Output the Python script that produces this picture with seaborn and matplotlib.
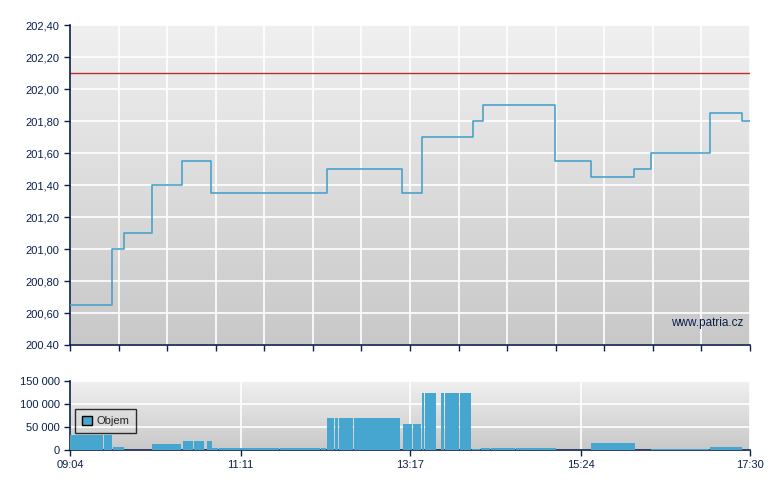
import numpy as np
import pandas as pd
import matplotlib
matplotlib.use('Agg')
import matplotlib.pyplot as plt
import seaborn as sns
from matplotlib.colors import LinearSegmentedColormap

# price steps (time of trade, price)
price_times = ['09:04', '09:35', '09:44', '10:05', '10:27', '10:49', '12:15',
               '13:11', '13:26', '14:04', '14:11', '15:05', '15:32', '16:04',
               '16:16', '17:00', '17:24', '17:30']
price_values = [200.65, 201.00, 201.10, 201.40, 201.55, 201.35, 201.50,
                201.35, 201.70, 201.80, 201.90, 201.55, 201.45, 201.50,
                201.60, 201.85, 201.80, 201.80]
prev_close = 202.10

# volume bars (start time, volume); a bar runs until the next start
vol_times = ['09:04', '09:29', '09:36', '09:45', '10:05', '10:27', '10:28',
             '10:36', '10:44', '10:46', '10:47', '10:50', '10:55', '11:22',
             '11:40', '12:11', '12:15', '12:21', '12:24', '12:29', '12:35',
             '12:55', '13:10', '13:12', '13:19', '13:21', '13:26', '13:28',
             '13:37', '13:40', '13:43', '13:54', '13:59', '14:03', '14:10',
             '14:17', '14:36', '15:06', '15:32', '16:05', '16:16', '17:00',
             '17:25']
vol_values = [32500, 32500, 6500, 0, 13000, 20000, 20000,
              20000, 0, 20000, 20000, 4300, 4300, 4300,
              4300, 4300, 69000, 69000, 69000, 69000, 69000,
              69000, 0, 56000, 56000, 56000, 125000, 125000,
              0, 125000, 125000, 125000, 125000, 2000, 5000,
              5000, 5000, 0, 15000, 0, 2000, 6500,
              0]
end_time = '17:30'

x_labels = ['09:04', '11:11', '13:17', '15:24', '17:30']
price_ticks = [200.4, 200.6, 200.8, 201.0, 201.2, 201.4, 201.6, 201.8, 202.0, 202.2, 202.4]
price_labels = ['200.40', '200,60', '200,80', '201,00', '201,20', '201,40',
                '201,60', '201,80', '202,00', '202,20', '202,40']
vol_ticks = [0, 50000, 100000, 150000]
vol_labels = ['0', '50 000', '100 000', '150 000']


def to_min(t):
    h, m = t.split(':')
    return (int(h) * 60 + int(m)) - (9 * 60 + 4)


navy = '#0b1f4d'
blue = '#46a6cf'
sns.set_style('white')
plt.rcParams['font.family'] = ['Liberation Sans', 'DejaVu Sans']

t_end = to_min(end_time)
bg = LinearSegmentedColormap.from_list('bg', ['#c8c8c8', '#f0f0f0'])
grad = np.linspace(0, 1, 256).reshape(-1, 1)

fig = plt.figure(figsize=(7.8, 4.9), dpi=100)
ax1 = fig.add_axes([70 / 780, 1 - 345 / 490, 680 / 780, 320 / 490])
ax2 = fig.add_axes([70 / 780, 1 - 450 / 490, 680 / 780, 69 / 490])

for ax in (ax1, ax2):
    ax.imshow(grad, cmap=bg, origin='lower', aspect='auto',
              extent=[0, 1, 0, 1], transform=ax.transAxes, zorder=0)
    for s in ['top', 'right']:
        ax.spines[s].set_visible(False)
    for s in ['left', 'bottom']:
        ax.spines[s].set_color(navy)
        ax.spines[s].set_linewidth(1.2)
    ax.tick_params(colors=navy, labelcolor=navy, labelsize=8, length=4,
                   width=1, direction='out', left=True, bottom=True)
    ax.set_xlim(0, t_end)
    ax.grid(True, color='white', lw=1.2)
    ax.set_axisbelow(True)

# upper: price
df = pd.DataFrame({'t': [to_min(t) for t in price_times], 'price': price_values})
sns.lineplot(data=df, x='t', y='price', drawstyle='steps-post', estimator=None,
             color='#4aa2cb', lw=1.2, ax=ax1, zorder=3)
ax1.axhline(prev_close, color='#c0302a', lw=1, zorder=2)
ax1.set_ylim(200.4, 202.4)
ax1.set_yticks(price_ticks)
ax1.set_yticklabels(price_labels)
ax1.set_xticks(np.linspace(0, t_end, 15))
ax1.set_xticklabels([])
ax1.set_xlabel('')
ax1.set_ylabel('')
ax1.text(0.99, 0.068, 'www.patria.cz', transform=ax1.transAxes, ha='right',
         va='center', fontsize=8.5, color=navy, zorder=4)

# lower: volume
starts = np.array([to_min(t) for t in vol_times])
widths = np.diff(np.append(starts, t_end))
vols = np.array(vol_values)
mask = vols > 0
ax2.bar(starts[mask], vols[mask], width=widths[mask] - 0.6, align='edge', color=blue,
        linewidth=0, zorder=3, label='Objem')
ax2.set_ylim(0, 150000)
ax2.set_yticks(vol_ticks)
ax2.set_yticklabels(vol_labels)
ax2.set_xticks([to_min(t) for t in x_labels])
ax2.set_xticklabels(x_labels)
leg = ax2.legend(loc='lower left', bbox_to_anchor=(0.008, 0.246), borderaxespad=0,
                 frameon=True, fancybox=False, fontsize=8, handlelength=0.9,
                 handleheight=0.9, handletextpad=0.4, borderpad=0.6)
leg.get_frame().set_edgecolor('black')
leg.get_frame().set_facecolor('none')
leg.get_frame().set_linewidth(1)
for h in leg.legend_handles:
    h.set_edgecolor('black')
    h.set_linewidth(1)

fig.savefig('out.png', dpi=100)
